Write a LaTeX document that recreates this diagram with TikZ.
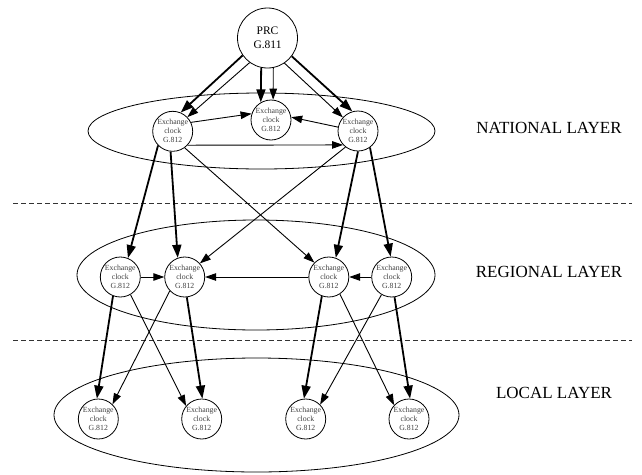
\documentclass[tikz,border=0pt]{standalone}
\usepackage{fontspec}
\setmainfont{Liberation Serif}
\usetikzlibrary{arrows.meta}
\begin{document}
\begin{tikzpicture}[x=1pt,y=-1pt,
  clk/.style={draw, circle, line width=0.8pt, minimum size=40pt, inner sep=0pt, align=center, font=\fontsize{7.8}{9}\selectfont, text=black!75},
  prcnode/.style={draw, circle, line width=0.8pt, minimum size=60pt, inner sep=0pt, align=center, font=\fontsize{11.5}{14}\selectfont},
  lnk/.style={line width=0.9pt, -{Triangle[length=11pt,width=7.5pt]}},
  lnkb/.style={line width=1.8pt, -{Triangle[length=13pt,width=9pt]}},
  layer/.style={draw, line width=0.8pt},
  sepline/.style={line width=0.7pt, dash pattern=on 4.5pt off 3.5pt, black!80},
  lab/.style={font=\fontsize{17}{20}\selectfont}
]
\useasboundingbox (0,0) rectangle (642,474);
% layer ellipses
\draw[layer] (261.5,131) ellipse [x radius=173.5pt, y radius=38pt];
\draw[layer] (256,275) ellipse [x radius=179pt, y radius=55pt];
\draw[layer] (256.5,415) ellipse [x radius=202.5pt, y radius=57pt];
% separators
\draw[sepline] (13,203) -- (632,203);
\draw[sepline] (13,340) -- (632,340);
% labels
\node[lab] (tn) at (549,128) {NATIONAL LAYER};
\node[lab] (tr) at (549,272) {REGIONAL LAYER};
\node[lab] (tl) at (554,393) {LOCAL LAYER};
% nodes
\node[prcnode] (prc) at (267.5,38) {PRC\\G.811};
\node[clk] (nl) at (172.7,131.3) {Exchange\\clock\\G.812};
\node[clk] (nm) at (271,120) {Exchange\\clock\\G.812};
\node[clk] (nr) at (358,131) {Exchange\\clock\\G.812};
\node[clk] (r1) at (120.3,277) {Exchange\\clock\\G.812};
\node[clk] (r2) at (184.7,277) {Exchange\\clock\\G.812};
\node[clk] (r3) at (328.8,277) {Exchange\\clock\\G.812};
\node[clk] (r4) at (391.7,277) {Exchange\\clock\\G.812};
\node[clk] (l1) at (98.3,419) {Exchange\\clock\\G.812};
\node[clk] (l2) at (201.7,419) {Exchange\\clock\\G.812};
\node[clk] (l3) at (305.7,419) {Exchange\\clock\\G.812};
\node[clk] (l4) at (409,419) {Exchange\\clock\\G.812};
% PRC to national
\draw[lnkb] (prc.215) -- (nl.67);
\draw[lnk] (prc.234) -- (nl.44);
\draw[lnkb] (prc.258) -- (nm.120);
\draw[lnk] (prc.281) -- (nm.84);
\draw[lnk] (prc.304) -- (nr.138);
\draw[lnkb] (prc.323) -- (nr.106);
% national internal
\draw[lnk] (nl.26) -- (nm.162);
\draw[lnk] (nr.169) -- (nm.8);
\draw[lnk] (nl.-43) -- (nr.223);
% national to regional
\draw[lnkb] (nl.224) -- (r1.68);
\draw[lnkb] (nl.264) -- (r2.110);
\draw[lnk] (nl.306) -- (r3.135);
\draw[lnk] (nr.232) -- (r2.42);
\draw[lnkb] (nr.270) -- (r3.70);
\draw[lnkb] (nr.306) -- (r4.93);
% regional internal
\draw[lnk] (r1) -- (r2);
\draw[lnk] (r3) -- (r2);
\draw[lnk] (r4) -- (r3);
% regional to local
\draw[lnkb] (r1.249) -- (l1.94);
\draw[lnk] (r1.300) -- (l2.140);
\draw[lnk] (r2.223) -- (l1.46);
\draw[lnkb] (r2.276) -- (l2.88);
\draw[lnkb] (r3.250) -- (l3.95);
\draw[lnk] (r3.303) -- (l4.137);
\draw[lnk] (r4.240) -- (l3.45);
\draw[lnkb] (r4.278) -- (l4.87);
\end{tikzpicture}
\end{document}
